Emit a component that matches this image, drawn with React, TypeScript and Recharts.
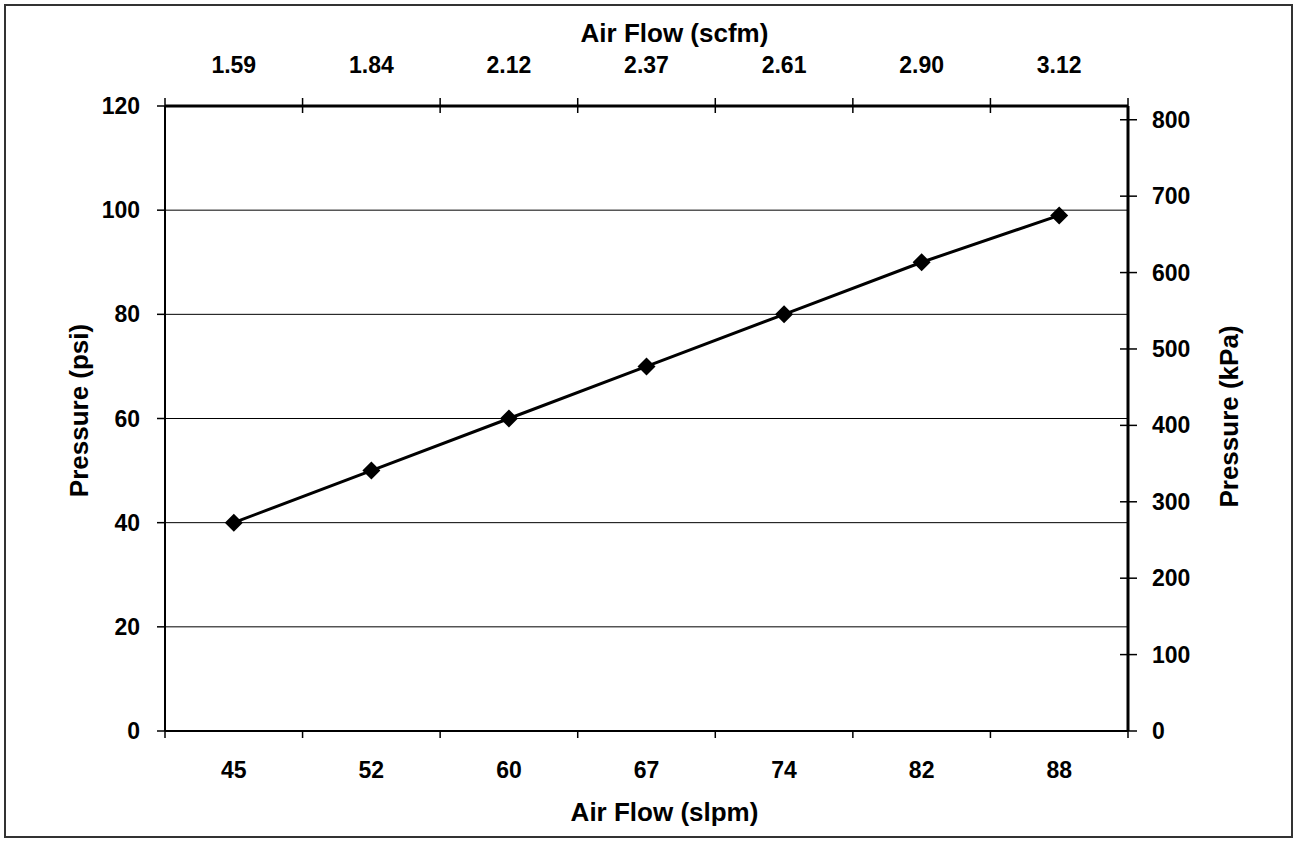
import { LineChart, Line, XAxis, YAxis, CartesianGrid } from 'recharts'

// values
const slpmLabels = ['45', '52', '60', '67', '74', '82', '88']
const scfmLabels = ['1.59', '1.84', '2.12', '2.37', '2.61', '2.90', '3.12']
const pressurePsi = [40, 50, 60, 70, 80, 90, 99]
const psiTicks = [0, 20, 40, 60, 80, 100, 120]
const kpaTicks = [0, 100, 200, 300, 400, 500, 600, 700, 800]
const kpaMax = 818

const FONT = '"Liberation Sans", Arial, sans-serif'

// each category sits in the middle of its slot, tick marks on the slot edges
const chartData = slpmLabels.map((label, i) => ({
  pos: i + 0.5,
  slpm: label,
  scfm: scfmLabels[i],
  psi: pressurePsi[i],
}))
const slotTicks = Array.from({ length: slpmLabels.length * 2 + 1 }, (_, i) => i / 2)

const labelFor = (labels: string[], v: number) => labels[Math.floor(v)]

function BottomTick(props: any) {
  const { x, y, payload } = props
  const v = payload.value as number
  if (Number.isInteger(v)) {
    return <line x1={x} y1={y} x2={x} y2={y + 7} stroke="#000" strokeWidth={1.5} />
  }
  return (
    <text x={x} y={y + 47} textAnchor="middle" fontFamily={FONT} fontWeight="bold" fontSize={23} fill="#000">
      {labelFor(slpmLabels, v)}
    </text>
  )
}

function TopTick(props: any) {
  const { x, y, payload } = props
  const v = payload.value as number
  if (Number.isInteger(v)) {
    return <line x1={x} y1={y - 8} x2={x} y2={y + 7} stroke="#000" strokeWidth={1.5} />
  }
  return (
    <text x={x} y={y - 33} textAnchor="middle" fontFamily={FONT} fontWeight="bold" fontSize={23} fill="#000">
      {labelFor(scfmLabels, v)}
    </text>
  )
}

function LeftTick(props: any) {
  const { x, y, payload } = props
  return (
    <g>
      <line x1={x - 8} y1={y} x2={x} y2={y} stroke="#000" strokeWidth={1.5} />
      <text x={x - 25} y={y + 8} textAnchor="end" fontFamily={FONT} fontWeight="bold" fontSize={23} fill="#000">
        {payload.value}
      </text>
    </g>
  )
}

function RightTick(props: any) {
  const { x, y, payload } = props
  return (
    <g>
      <line x1={x - 8} y1={y} x2={x + 9} y2={y} stroke="#000" strokeWidth={1.5} />
      <text x={x + 24} y={y + 8} textAnchor="start" fontFamily={FONT} fontWeight="bold" fontSize={23} fill="#000">
        {payload.value}
      </text>
    </g>
  )
}

function Diamond(props: any) {
  const { cx, cy } = props
  if (cx == null || cy == null) return null
  const r = 9
  return <path d={`M${cx},${cy - r}L${cx + r},${cy}L${cx},${cy + r}L${cx - r},${cy}Z`} fill="#000" />
}

const titleStyle = { fontFamily: FONT, fontWeight: 'bold' as const, fontSize: 26, fill: '#000' }

export default function App() {
  return (
    <div style={{ position: 'absolute', left: 0, top: 0, width: 1297, height: 842, background: '#fff' }}>
      <div
        style={{
          position: 'absolute',
          left: 4,
          top: 4,
          width: 1285,
          height: 830,
          border: '2px solid #333',
          pointerEvents: 'none',
        }}
      />
      <LineChart width={1297} height={842} data={chartData} margin={{ top: 0, right: 0, bottom: 0, left: 0 }}>
        <CartesianGrid xAxisId="bottom" yAxisId="psi" vertical={false} stroke="#000" strokeWidth={1} />
        <XAxis
          xAxisId="bottom"
          type="number"
          dataKey="pos"
          domain={[0, slpmLabels.length]}
          ticks={slotTicks}
          interval={0}
          height={111}
          tickSize={0}
          tickMargin={0}
          tickLine={false}
          tick={BottomTick}
          axisLine={{ stroke: '#000', strokeWidth: 2 }}
          label={{
            content: ({ viewBox }: any) => (
              <text x={viewBox.x + viewBox.width / 2 + 18} y={viewBox.y + 90} textAnchor="middle" {...titleStyle}>
                Air Flow (slpm)
              </text>
            ),
          }}
        />
        <XAxis
          xAxisId="top"
          orientation="top"
          type="number"
          dataKey="pos"
          domain={[0, scfmLabels.length]}
          ticks={slotTicks}
          interval={0}
          height={106}
          tickSize={0}
          tickMargin={0}
          tickLine={false}
          tick={TopTick}
          axisLine={{ stroke: '#000', strokeWidth: 3 }}
          label={{
            content: ({ viewBox }: any) => (
              <text x={viewBox.x + viewBox.width / 2 + 28} y={42} textAnchor="middle" {...titleStyle}>
                Air Flow (scfm)
              </text>
            ),
          }}
        />
        <YAxis
          yAxisId="psi"
          type="number"
          domain={[0, 120]}
          ticks={psiTicks}
          interval={0}
          width={165}
          tickSize={0}
          tickMargin={0}
          tickLine={false}
          tick={LeftTick}
          axisLine={{ stroke: '#000', strokeWidth: 2 }}
          label={{
            content: ({ viewBox }: any) => {
              const cx = 88
              const cy = viewBox.y + viewBox.height / 2 - 8
              return (
                <text x={cx} y={cy} transform={`rotate(-90 ${cx} ${cy})`} textAnchor="middle" {...titleStyle}>
                  Pressure (psi)
                </text>
              )
            },
          }}
        />
        <YAxis
          yAxisId="kpa"
          orientation="right"
          type="number"
          domain={[0, kpaMax]}
          allowDataOverflow
          ticks={kpaTicks}
          interval={0}
          width={169}
          tickSize={0}
          tickMargin={0}
          tickLine={false}
          tick={RightTick}
          axisLine={{ stroke: '#000', strokeWidth: 3 }}
          label={{
            content: ({ viewBox }: any) => {
              const cx = viewBox.x + 110
              const cy = viewBox.y + viewBox.height / 2 - 2
              return (
                <text x={cx} y={cy} transform={`rotate(-90 ${cx} ${cy})`} textAnchor="middle" {...titleStyle}>
                  Pressure (kPa)
                </text>
              )
            },
          }}
        />
        {/* invisible series so the kPa axis gets drawn */}
        <Line
          xAxisId="top"
          yAxisId="kpa"
          dataKey="psi"
          stroke="none"
          dot={false}
          activeDot={false}
          legendType="none"
          isAnimationActive={false}
        />
        <Line
          xAxisId="bottom"
          yAxisId="psi"
          type="linear"
          dataKey="psi"
          stroke="#000"
          strokeWidth={3}
          dot={<Diamond />}
          activeDot={false}
          isAnimationActive={false}
        />
      </LineChart>
    </div>
  )
}
